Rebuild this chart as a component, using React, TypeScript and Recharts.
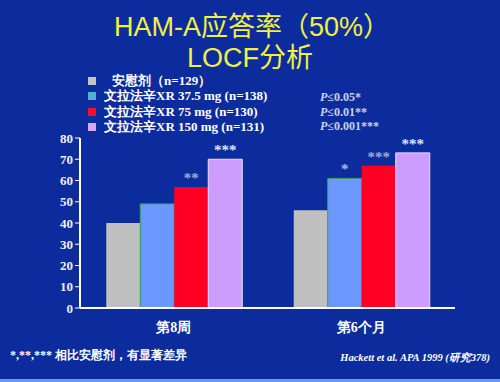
import * as React from "react";
import { BarChart, Bar, XAxis, YAxis, LabelList } from "recharts";

const categories = ["第8周", "第6个月"];
const placebo = [40, 46];
const ven37 = [49, 61];
const ven75 = [57, 67];
const ven150 = [70, 73];
const stars37 = ["", "*"];
const stars75 = ["**", "***"];
const stars150 = ["***", "***"];
const yTicks = [0, 10, 20, 30, 40, 50, 60, 70, 80];

const legendItems = [
  { label: "安慰剂（n=129）", color: "#c4c4c4", indent: 8 },
  { label: "文拉法辛XR 37.5 mg (n=138)", color: "#4fb0d8", indent: 0 },
  { label: "文拉法辛XR 75 mg (n=130)", color: "#ff0a2a", indent: 0 },
  { label: "文拉法辛XR 150 mg (n=131)", color: "#d8a8f8", indent: 0 },
];
const pValues = [
  ["P", "≤0.05*"],
  ["P", "≤0.01**"],
  ["P", "≤0.001***"],
];

const data = categories.map((name, i) => ({
  name,
  placebo: placebo[i],
  ven37: ven37[i],
  ven75: ven75[i],
  ven150: ven150[i],
  s37: stars37[i],
  s75: stars75[i],
  s150: stars150[i],
}));

const serif = "'Liberation Serif', 'DejaVu Serif', serif";

const starLabel = (color: string) => (props: any) => {
  const { x, y, width, value } = props;
  if (!value) return null;
  return (
    <text
      x={x + width / 2}
      y={y - 4}
      textAnchor="middle"
      fill={color}
      fontFamily={serif}
      fontWeight="bold"
      fontSize={15}
    >
      {value}
    </text>
  );
};

export default function App() {
  return (
    <div
      style={{
        position: "absolute",
        left: 0,
        top: 0,
        width: 500,
        height: 382,
        background: "#0c2c9e",
        overflow: "hidden",
        fontFamily: serif,
      }}
    >
      <div
        style={{
          position: "absolute",
          top: 12,
          left: 0,
          width: 500,
          textAlign: "center",
          color: "#f2f040",
          fontFamily: "'Liberation Sans', Arial, 'Noto Sans CJK SC', sans-serif",
          fontSize: 27,
          lineHeight: "31px",
        }}
      >
        <div style={{ paddingLeft: 4 }}>HAM-A应答率（50%）</div>
        <div>LOCF分析</div>
      </div>

      {legendItems.map((it, i) => (
        <div
          key={it.label}
          style={{
            position: "absolute",
            left: 88,
            top: 73 + i * 15.3,
            height: 16,
            display: "flex",
            alignItems: "center",
            color: "#ffffff",
            fontWeight: "bold",
            fontSize: 13,
            whiteSpace: "nowrap",
          }}
        >
          <span
            style={{
              width: 8,
              height: 8,
              background: it.color,
              display: "inline-block",
              marginRight: 8 + it.indent,
            }}
          />
          {it.label}
        </div>
      ))}

      {pValues.map(([p, rest], i) => (
        <div
          key={rest}
          style={{
            position: "absolute",
            left: 320,
            top: 90 + i * 14.5,
            color: "#c8d2f0",
            fontSize: 12,
            fontWeight: "bold",
            whiteSpace: "nowrap",
          }}
        >
          <i>{p}</i>
          {rest}
        </div>
      ))}

      <div style={{ position: "absolute", left: 0, top: 0 }}>
        <BarChart
          width={500}
          height={382}
          data={data}
          margin={{ top: 138, right: 45, bottom: 44, left: 0 }}
          barGap={0}
          barCategoryGap="14%"
        >
          <YAxis
            width={80}
            domain={[0, 80]}
            ticks={yTicks}
            interval={0}
            axisLine={{ stroke: "#ffffff", strokeWidth: 2 }}
            tickLine={{ stroke: "#ffffff" }}
            tickSize={5}
            tick={{
              fill: "#eef0fa",
              fontFamily: serif,
              fontWeight: "bold",
              fontSize: 13,
            }}
          />
          <XAxis
            dataKey="name"
            axisLine={{ stroke: "#ffffff", strokeWidth: 2 }}
            tickLine={false}
            tickMargin={8}
            tick={{
              fill: "#ffffff",
              fontFamily: serif,
              fontWeight: "bold",
              fontSize: 14,
            }}
          />
          <Bar dataKey="placebo" fill="#c0c0c0" isAnimationActive={false} />
          <Bar
            dataKey="ven37"
            fill="#6a98ff"
            stroke="#3aa060"
            strokeWidth={1}
            isAnimationActive={false}
          >
            <LabelList dataKey="s37" content={starLabel("#a8b8e8")} />
          </Bar>
          <Bar dataKey="ven75" fill="#ff0024" isAnimationActive={false}>
            <LabelList dataKey="s75" content={starLabel("#9aaad8")} />
          </Bar>
          <Bar
            dataKey="ven150"
            fill="#cc9cff"
            stroke="#e8e0ff"
            strokeWidth={1}
            isAnimationActive={false}
          >
            <LabelList dataKey="s150" content={starLabel("#dfe4f4")} />
          </Bar>
        </BarChart>
      </div>

      <div
        style={{
          position: "absolute",
          left: 10,
          top: 347,
          color: "#ffffff",
          fontWeight: "bold",
          fontSize: 12,
          whiteSpace: "nowrap",
        }}
      >
        *,**,*** 相比安慰剂，有显著差异
      </div>
      <div
        style={{
          position: "absolute",
          right: 10,
          top: 351,
          color: "#ffffff",
          fontWeight: "bold",
          fontStyle: "italic",
          fontSize: 10.5,
          whiteSpace: "nowrap",
        }}
      >
        Hackett et al. APA 1999 (研究378)
      </div>
      <div
        style={{
          position: "absolute",
          left: 0,
          top: 379,
          width: 500,
          height: 3,
          background: "#6a9ae8",
        }}
      />
    </div>
  );
}
